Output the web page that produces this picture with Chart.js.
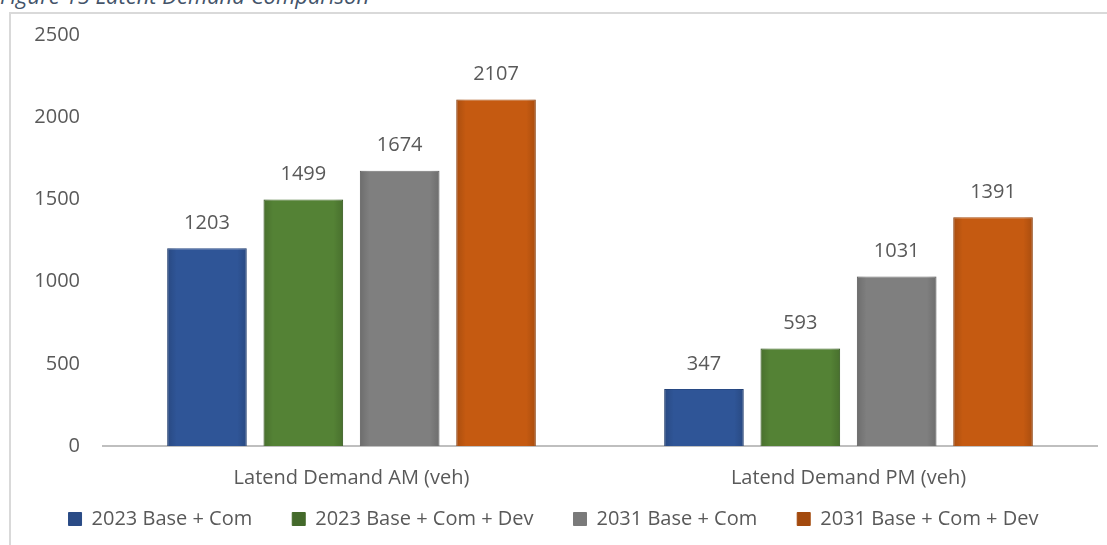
<!DOCTYPE html>
<html>
<head>
<meta charset="utf-8">
<script src="https://cdn.jsdelivr.net/npm/chart.js@4.4.1/dist/chart.umd.min.js"></script>
<style>
  html, body { margin: 0; padding: 0; background: #fff; overflow: hidden; }
  #wrap { position: relative; width: 1107px; height: 545px; }
  #frame { position: absolute; left: 9px; top: 12px; right: 0; bottom: 0;
           border-top: 2px solid #d9d9d9; border-left: 2px solid #d9d9d9; }
  #caption { position: absolute; left: 0; top: -20px; font: italic 22px "Open Sans", sans-serif;
             color: #44546a; white-space: nowrap; }
  canvas { position: absolute; left: 0; top: 0; }
</style>
</head>
<body>
<div id="wrap">
  <div id="frame"></div>
  <div id="caption">Figure 15 Latent Demand Comparison</div>
  <canvas id="chart" width="1107" height="545"></canvas>
</div>
<script>
// Latent demand, vehicles
const categories = ["Latend Demand AM (veh)", "Latend Demand PM (veh)"];
const seriesNames = ["2023 Base + Com", "2023 Base + Com + Dev", "2031 Base + Com", "2031 Base + Com + Dev"];
const base2023 = [1203, 347];
const baseDev2023 = [1499, 593];
const base2031 = [1674, 1031];
const baseDev2031 = [2107, 1391];
const yTicks = [0, 500, 1000, 1500, 2000, 2500];

const fills = ["#2f5597", "#548235", "#7f7f7f", "#c55a11"];
const edges = ["#284a85", "#466f2c", "#757575", "#a84c0f"];
const keyFills = ["#2a4b86", "#446a2b", "#7a7a7a", "#a34a0e"];
const FONT = "'Open Sans', sans-serif";
const TEXT = "#595959";
const SIZE = 20;
const LEGEND_PAD = 40;
const LEGEND_TOP = 469;

// soft darkening toward the bar sides, then the value above each bar
const barValues = {
  id: "barValues",
  afterDatasetsDraw(chart) {
    const ctx = chart.ctx;
    ctx.save();
    chart.data.datasets.forEach((ds, i) => {
      chart.getDatasetMeta(i).data.forEach((bar) => {
        const l = bar.x - bar.width / 2, r = bar.x + bar.width / 2;
        const g = ctx.createLinearGradient(l, 0, r, 0);
        g.addColorStop(0, "rgba(0,0,0,0.14)");
        g.addColorStop(0.12, "rgba(0,0,0,0)");
        g.addColorStop(0.88, "rgba(0,0,0,0)");
        g.addColorStop(1, "rgba(0,0,0,0.14)");
        ctx.fillStyle = g;
        ctx.fillRect(l, bar.y, bar.width, bar.base - bar.y);
      });
    });
    ctx.font = SIZE + "px " + FONT;
    ctx.fillStyle = TEXT;
    ctx.textAlign = "center";
    ctx.textBaseline = "middle";
    chart.data.datasets.forEach((ds, i) => {
      chart.getDatasetMeta(i).data.forEach((bar, j) => {
        ctx.fillText(String(ds.data[j]), bar.x, bar.y - 25);
      });
    });
    ctx.restore();
  }
};

// legend strip: small fixed height for layout, then moved down to the bottom row
const legendPlace = {
  id: "legendPlace",
  beforeLayout(chart) {
    const lg = chart.legend;
    if (!lg || lg._fixed) return;
    const fit = lg.fit;
    lg.fit = function () { fit.call(this); this.height = 35; };
    lg._fixed = true;
  },
  afterLayout(chart) {
    const lg = chart.legend;
    lg.top = LEGEND_TOP;
    lg.bottom = chart.height;
  }
};

const seriesData = [base2023, baseDev2023, base2031, baseDev2031];

new Chart(document.getElementById("chart"), {
  type: "bar",
  data: {
    labels: categories,
    datasets: seriesData.map((d, i) => ({
      label: seriesNames[i],
      data: d,
      backgroundColor: fills[i],
      borderColor: edges[i],
      borderWidth: 1,
      categoryPercentage: 0.7755,
      barPercentage: 0.8256,
    })),
  },
  options: {
    responsive: false,
    animation: false,
    layout: { padding: { left: 10, right: 10, top: 35, bottom: 0 } },
    plugins: {
      legend: {
        position: "bottom",
        labels: {
          boxWidth: 13, boxHeight: 13, padding: LEGEND_PAD,
          color: TEXT, font: { family: FONT, size: SIZE },
          generateLabels: (chart) =>
            Chart.defaults.plugins.legend.labels.generateLabels(chart).map((it) => ({
              ...it, fillStyle: keyFills[it.datasetIndex], strokeStyle: keyFills[it.datasetIndex],
            })),
        },
      },
      tooltip: { enabled: false },
    },
    scales: {
      x: {
        grid: { display: false, drawTicks: false },
        border: { display: true, color: "#bfbfbf", width: 2 },
        ticks: { color: TEXT, font: { family: FONT, size: SIZE }, padding: 20 },
      },
      y: {
        min: 0, max: 2500,
        afterFit: (s) => { s.width = 93; },
        afterBuildTicks: (s) => { s.ticks = yTicks.map(v => ({ value: v })); },
        grid: { display: false, drawTicks: false },
        border: { display: false },
        ticks: { color: TEXT, font: { family: FONT, size: SIZE }, padding: 23,
                 callback: (v) => String(v) },
      },
    },
  },
  plugins: [barValues, legendPlace],
});
</script>
</body>
</html>
